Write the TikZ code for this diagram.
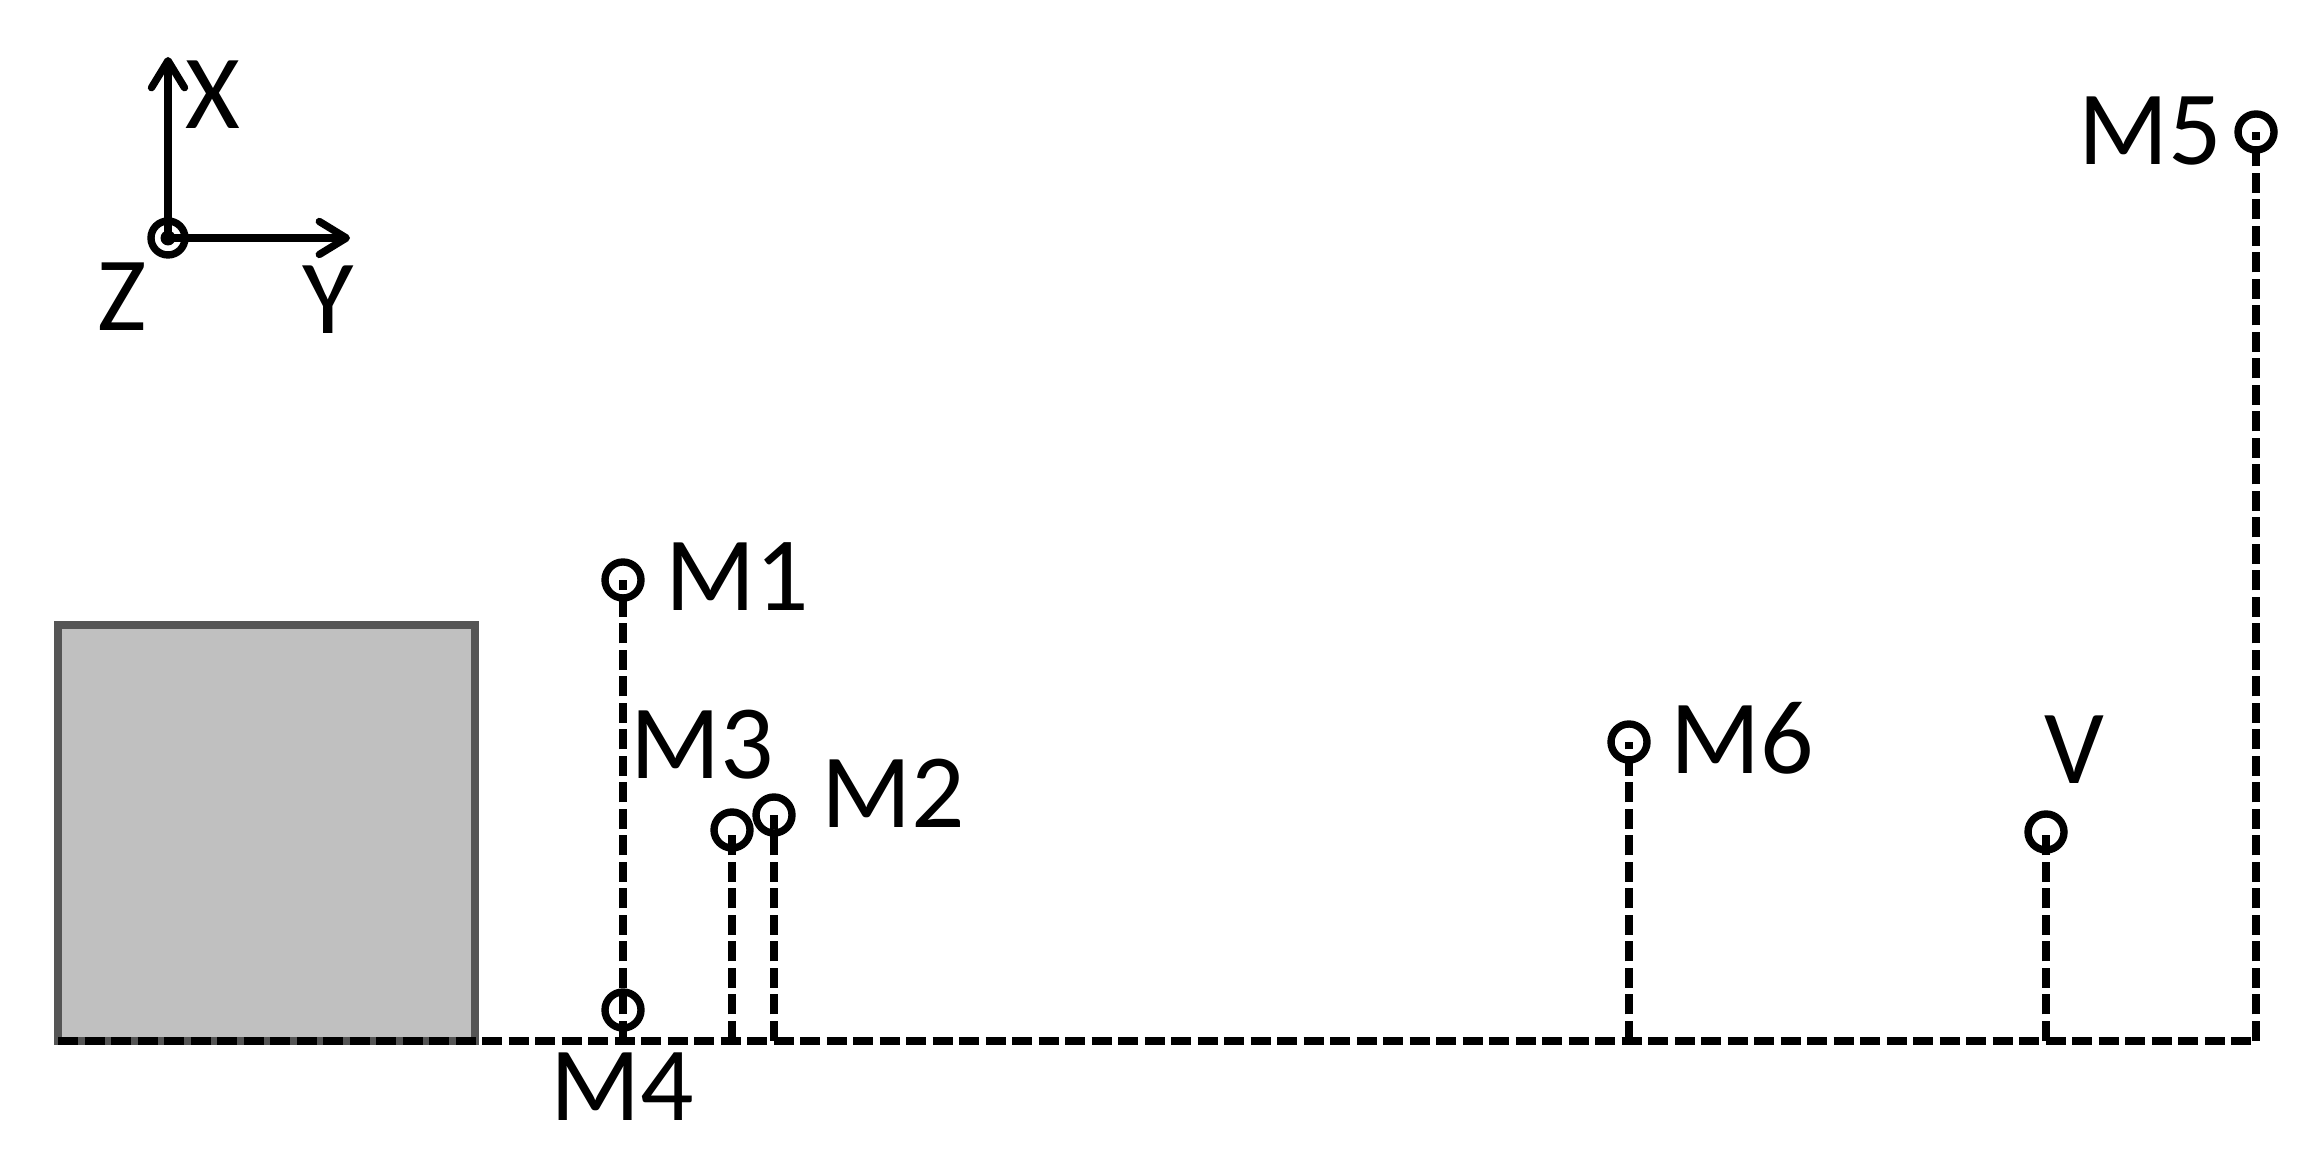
\documentclass[tikz,border=0pt]{standalone}
\usepackage{fontspec}
\setmainfont{Carlito}
\usepackage{xcolor}
\usepackage{tikz}
\usetikzlibrary{arrows.meta,calc}

\definecolor{boxfill}{HTML}{C0C0C0}
\definecolor{boxedge}{HTML}{555555}
\tikzset{
  meas/.style={circle, draw, line width=2.1pt, minimum size=3.6mm, inner sep=0pt},
  proj/.style={line width=2.3pt, dash pattern=on 2mm off 0.65mm},
  lbl/.style={font=\fontsize{30}{36}\selectfont, inner sep=0pt},
  axis/.style={->, line width=2.1pt}
}

\begin{document}
\begin{tikzpicture}[>={Straight Barb[length=2.7mm,width=3.3mm,round]}]
    \useasboundingbox (0,0) rectangle (22.99,11.61);

    % Axes
    \node[meas, minimum size=3.4mm] (orig) at (1.68,9.23) {};
    \fill (orig.center) circle (0.075);
    \coordinate (xtip) at (1.68,11.04);
    \coordinate (ytip) at (3.50,9.23);
    \draw[axis] (orig.center) -- (xtip);
    \draw[axis] (orig.center) -- (ytip);
    \node[lbl] (xlab) at (2.13,10.66) {X};
    \node[lbl] (zlab) at (1.22,8.64) {Z};
    \node[lbl] (ylab) at (3.28,8.61) {Y};

    % Block and base line
    \node[draw=boxedge, fill=boxfill, line width=2.4pt, minimum width=4.17cm, minimum height=4.16cm,
          inner sep=0pt, outer sep=0pt, anchor=south west] (blk) at (0.58,1.20) {};
    \coordinate (end) at (22.56,1.20);
    \draw[proj] (blk.south west) -- (end);

    % Points
    \node[meas] (m1) at (6.23,5.81) {};
    \node[meas] (m4) at (6.23,1.51) {};
    \node[meas] (m3) at (7.32,3.31) {};
    \node[meas] (m2) at (7.74,3.46) {};
    \node[meas] (m6) at (16.29,4.19) {};
    \node[meas] (v)  at (20.46,3.29) {};
    \node[meas] (m5) at (22.56,10.29) {};
    \foreach \p in {m1,m3,m2,m6,v,m5}
        \draw[proj] (\p |- end) -- (\p.center);

    % Labels
    \node[lbl] (m1lab) at (7.37,5.84) {M1};
    \node[lbl] (m2lab) at (8.93,3.68) {M2};
    \node[lbl] (m3lab) at (7.02,4.16) {M3};
    \node[lbl] (m4lab) at (6.22,0.74) {M4};
    \node[lbl] (m5lab) at (21.50,10.30) {M5};
    \node[lbl] (m6lab) at (17.42,4.23) {M6};
    \node[lbl] (vlab)  at (20.74,4.11) {V};
\end{tikzpicture}
\end{document}
